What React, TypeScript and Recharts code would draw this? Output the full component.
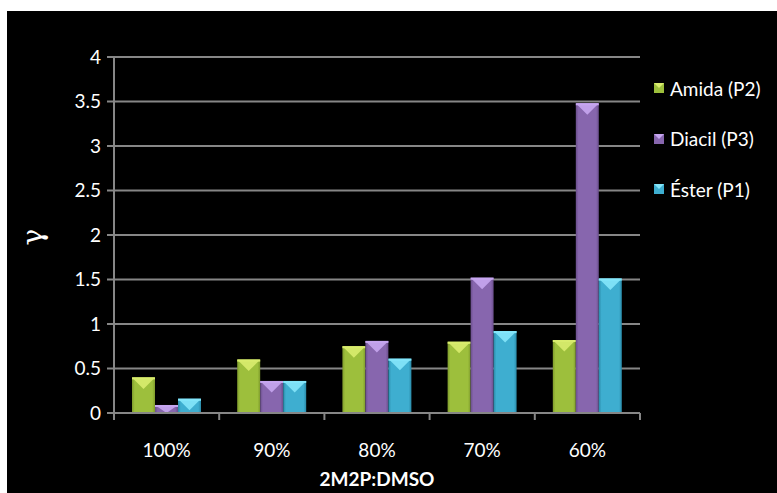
import React from 'react';
import { BarChart, Bar, XAxis, YAxis, CartesianGrid } from 'recharts';

const categories = ['100%', '90%', '80%', '70%', '60%'];
const amida = [0.4, 0.6, 0.75, 0.8, 0.82];
const diacil = [0.09, 0.36, 0.81, 1.52, 3.48];
const ester = [0.16, 0.36, 0.61, 0.92, 1.51];
const yTicks = [0, 0.5, 1, 1.5, 2, 2.5, 3, 3.5, 4];

const series = [
  { key: 'amida', name: 'Amida (P2)', main: '#9dbf3c', light: '#d9ec6e', dark: '#7f9c2c' },
  { key: 'diacil', name: 'Diacil (P3)', main: '#8766ae', light: '#c6a6f0', dark: '#6a4e8c' },
  { key: 'ester', name: 'Éster (P1)', main: '#3eaed0', light: '#84e6fa', dark: '#2a8aa8' },
];

const data = categories.map((c, i) => ({
  cat: c,
  amida: amida[i],
  diacil: diacil[i],
  ester: ester[i],
}));

const W = 770;
const H = 482;
const M = { top: 46, right: 137, left: 0, bottom: 40 };
const YW = 107;
const XH = 40;
const FONT = 'Lato, "Open Sans", sans-serif';
const FS = 19;

const makeShape = (s: any) => (props: any) => {
  const { x, y, width, height } = props;
  if (!(height > 0)) return null;
  const tri = Math.min(height, width / 2);
  return (
    <g>
      <rect x={x} y={y} width={width} height={height} fill={`url(#grad-${s.key})`} />
      <polygon
        points={`${x},${y} ${x + width},${y} ${x + width / 2},${y + tri}`}
        fill={s.light}
        opacity={0.9}
      />
      <rect x={x} y={y} width={width} height={Math.min(2, height)} fill={s.light} />
    </g>
  );
};

const XTick = (props: any) => {
  const { x, y, payload, index } = props;
  const bw = (W - YW - M.right) / categories.length;
  return (
    <g>
      <line x1={x - bw / 2} y1={y} x2={x - bw / 2} y2={y + 7} stroke="#868686" strokeWidth={2} />
      {index === categories.length - 1 && (
        <line x1={x + bw / 2} y1={y} x2={x + bw / 2} y2={y + 7} stroke="#868686" strokeWidth={2} />
      )}
      <text x={x} y={y + 44} textAnchor="middle" fill="#ffffff" fontSize={FS} fontFamily={FONT}>
        {payload.value}
      </text>
    </g>
  );
};

const LegendBox = () => (
  <div
    style={{
      position: 'absolute',
      left: 647,
      top: 66,
      fontFamily: FONT,
      color: '#fff',
      fontSize: FS,
    }}
  >
    {series.map((s, i) => (
      <div
        key={s.key}
        style={{ display: 'flex', alignItems: 'center', height: 22, marginBottom: i < 2 ? 28.5 : 0 }}
      >
        <svg width={10} height={10} style={{ marginRight: 6 }}>
          <rect x={0} y={0} width={10} height={10} fill={s.main} />
          <polygon points="0,0 10,0 5,5" fill={s.light} />
        </svg>
        <span>{s.name}</span>
      </div>
    ))}
  </div>
);

export default function App() {
  return (
    <div style={{ position: 'absolute', left: 7, top: 11, width: W, height: H, background: '#000' }}>
      <BarChart width={W} height={H} data={data} margin={M} barSize={23} barGap={0}>
        <defs>
          {series.map((s) => (
            <linearGradient key={s.key} id={`grad-${s.key}`} x1="0" y1="0" x2="1" y2="0">
              <stop offset="0%" stopColor={s.dark} />
              <stop offset="12%" stopColor={s.main} />
              <stop offset="88%" stopColor={s.main} />
              <stop offset="100%" stopColor={s.dark} />
            </linearGradient>
          ))}
        </defs>
        <CartesianGrid vertical={false} stroke="#868686" strokeWidth={2} />
        <XAxis
          dataKey="cat"
          height={XH}
          axisLine={{ stroke: '#868686', strokeWidth: 2 }}
          tickLine={false}
          tickSize={0}
          tickMargin={0}
          tick={<XTick />}
          interval={0}
        />
        <YAxis
          width={YW}
          domain={[0, 4]}
          ticks={yTicks}
          interval={0}
          axisLine={{ stroke: '#868686', strokeWidth: 2 }}
          tickLine={{ stroke: '#868686', strokeWidth: 2 }}
          tickSize={7}
          tickMargin={6}
          tick={{ fill: '#ffffff', fontSize: FS, fontFamily: FONT }}
        />
        {series.map((s) => (
          <Bar
            key={s.key}
            dataKey={s.key}
            name={s.name}
            fill={s.main}
            shape={makeShape(s)}
            isAnimationActive={false}
          />
        ))}
      </BarChart>
      <LegendBox />
      <div
        style={{
          position: 'absolute',
          left: 15,
          top: 211,
          width: 22,
          height: 30,
          color: '#fff',
          fontSize: 28,
          fontFamily: '"DejaVu Serif", serif',
          transform: 'rotate(-90deg)',
          lineHeight: '30px',
          textAlign: 'center',
        }}
      >
        γ
      </div>
      <div
        style={{
          position: 'absolute',
          left: YW,
          width: W - YW - M.right,
          top: 456,
          textAlign: 'center',
          color: '#fff',
          fontWeight: 'bold',
          fontSize: FS,
          fontFamily: FONT,
        }}
      >
        2M2P:DMSO
      </div>
    </div>
  );
}
